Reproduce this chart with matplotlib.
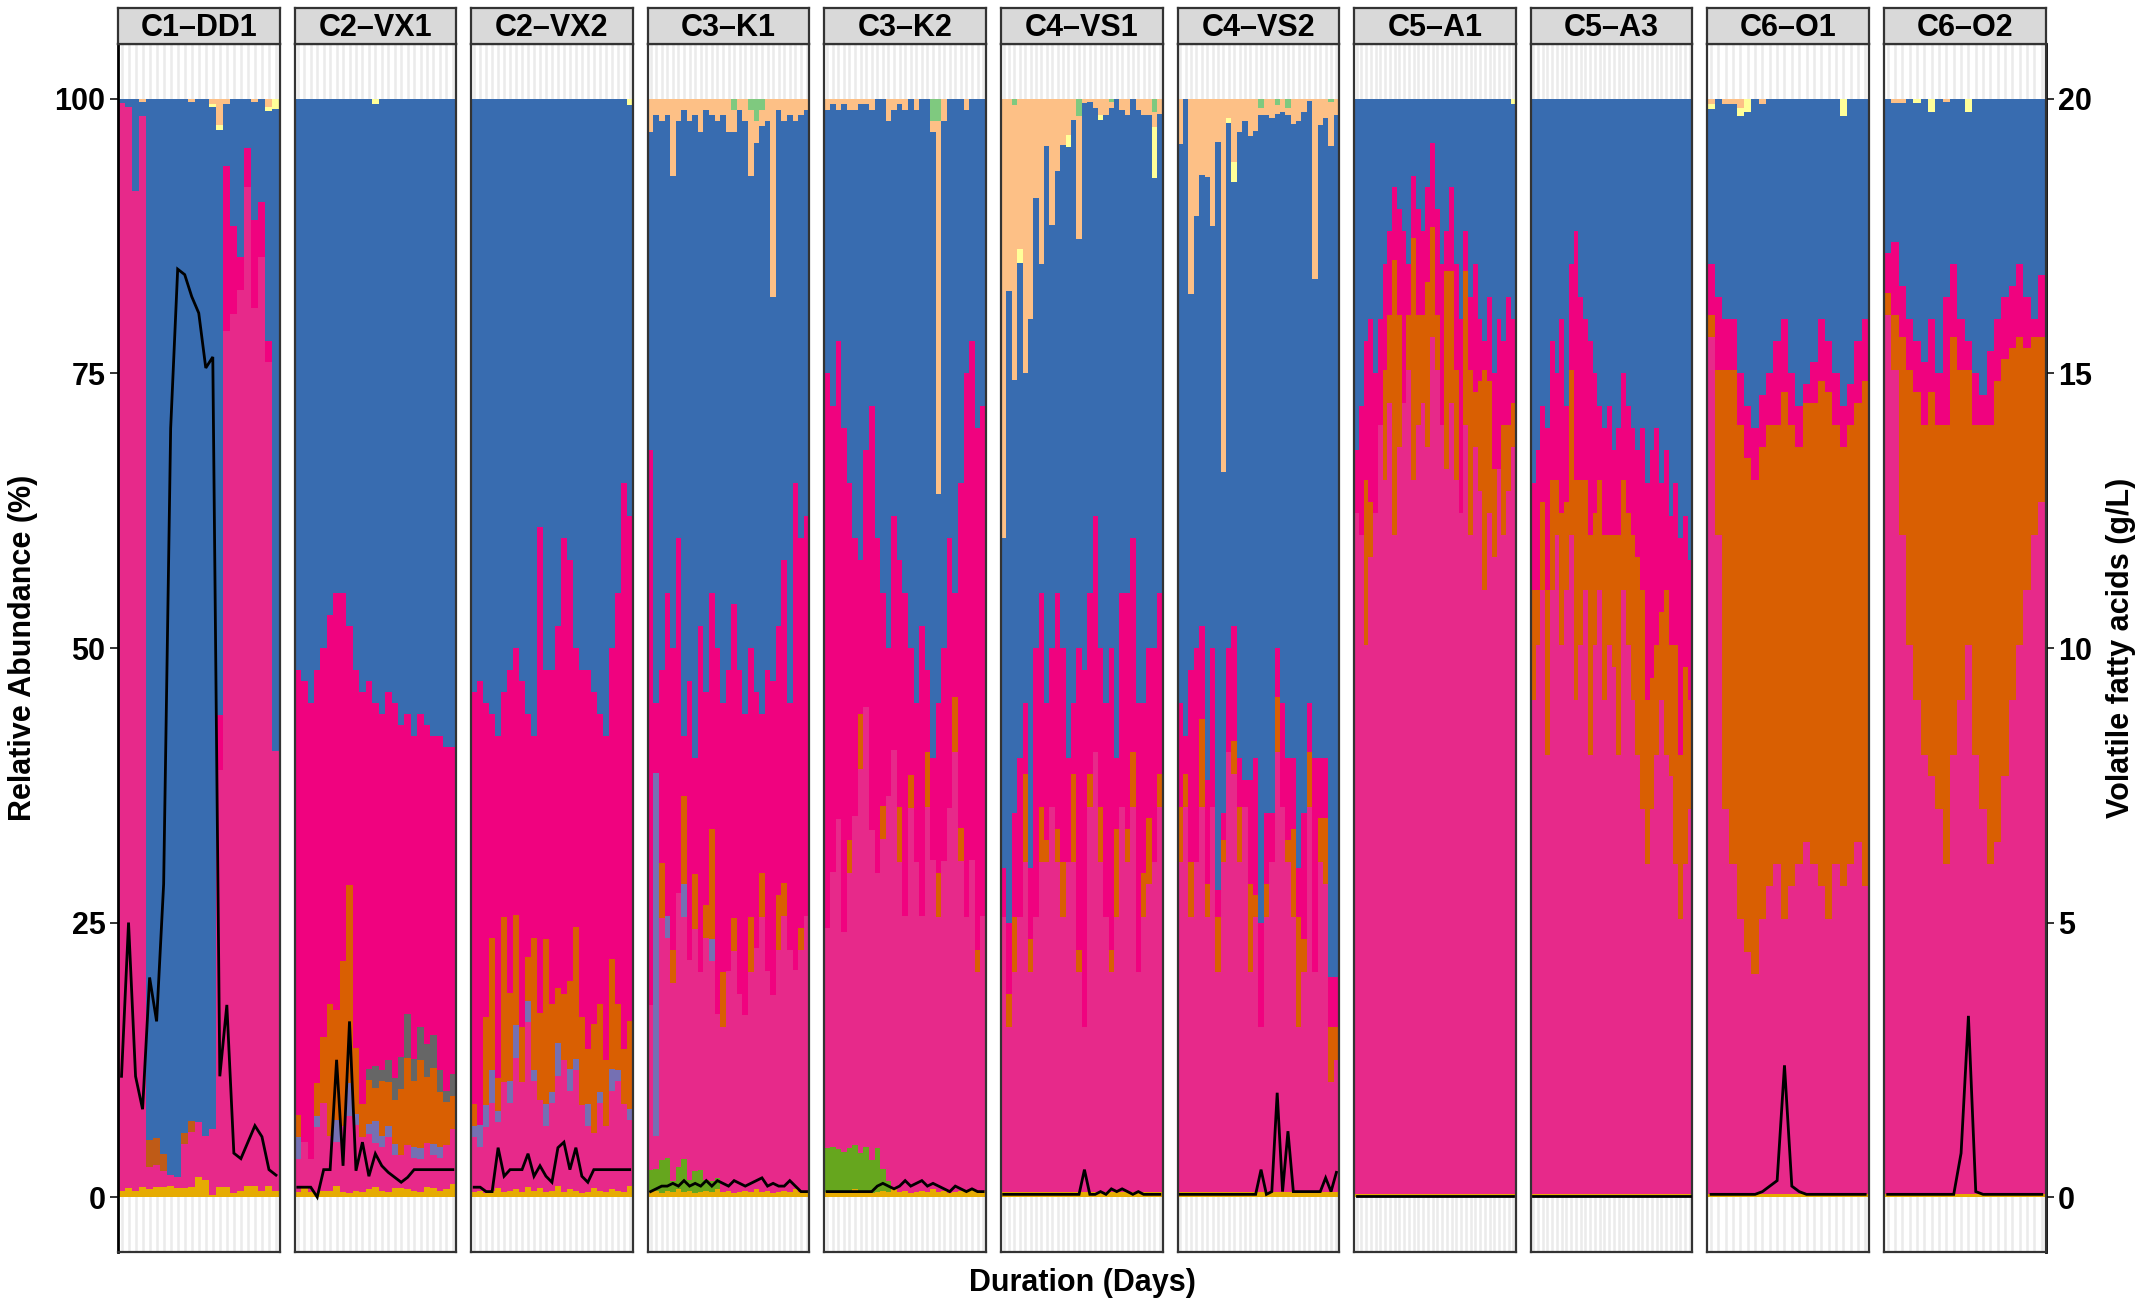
import matplotlib
matplotlib.use("Agg")
import matplotlib.pyplot as plt
import numpy as np

plt.rcParams['font.family'] = ['Liberation Sans', 'DejaVu Sans']
plt.rcParams['font.weight'] = 'bold'

PANEL_NAMES = ["C1–DD1", "C2–VX1", "C2–VX2", "C3–K1", "C3–K2", "C4–VS1",
               "C4–VS2", "C5–A1", "C5–A3", "C6–O1", "C6–O2"]

# stacking order bottom -> top
COMPONENTS = ['gold', 'green', 'pink', 'purple', 'orange', 'gray', 'brown',
              'magenta', 'blue', 'yellow', 'peach', 'lgreen']
COLORS = {'gold': '#E6AB02', 'green': '#66A61E', 'pink': '#E7298A',
          'purple': '#7570B3', 'orange': '#D95F02', 'gray': '#666666',
          'brown': '#BF5B17', 'magenta': '#F0027F', 'blue': '#386CB0',
          'yellow': '#FFFF99', 'peach': '#FDC086', 'lgreen': '#7FC97F'}

# "_floor" = relative abundance (%) below the blue taxon;
# the magenta taxon fills the gap between the listed lower taxa and that level.

# ---------------- C1-DD1 (23 samples) ----------------
DD1_gold = [0.6, 0.8, 0.6, 0.9, 0.7, 0.9, 0.9, 1.0, 0.8, 0.8, 0.9, 1.8, 1.6, 0.2, 0.9, 0.9, 0.4, 0.6, 1.0, 1.0, 0.6, 1.0, 0.6]
DD1_pink = [99, 98.5, 91, 97.5, 2, 2, 1.5, 1, 1, 4, 5, 5, 4, 6, 38, 78, 80, 82, 91, 80, 85, 75, 40]
DD1_brown = [0, 0, 0, 0, 2.5, 2.5, 1.5, 0, 0, 1, 1, 0, 0, 0, 0, 0, 0, 0, 0, 0, 0, 0, 0]
DD1_magenta = [0, 0, 0, 0, 0, 0, 0, 0, 0, 0, 0, 0, 0, 0, 5, 15, 8, 3, 3.5, 8, 5, 2, 0]
DD1_yellow = [0, 0, 0, 0, 0, 0, 0, 0, 0, 0, 0, 0, 0, 0.3, 0.45, 0, 0, 0, 0, 0, 0, 0.4, 0.9]
DD1_peach = [0, 0, 0, 0.3, 0, 0, 0, 0, 0, 0, 0.3, 0, 0, 0.45, 2.4, 0.45, 0, 0, 0, 0.3, 0, 0.7, 0]
DD1_vfa = [2.2, 5.0, 2.2, 1.6, 4.0, 3.2, 5.7, 14.0, 16.9, 16.8, 16.4, 16.1, 15.1, 15.3, 2.2, 3.5, 0.8, 0.7, 1.0, 1.3, 1.1, 0.5, 0.4]

# ---------------- C2-VX1 (25 samples) ----------------
VX1_gold = [0.5, 1.0, 0.5, 0.4, 0.6, 0.6, 1.0, 0.5, 0.4, 0.6, 0.5, 0.7, 0.9, 0.6, 0.5, 0.8, 0.8, 0.7, 0.6, 0.5, 0.9, 0.8, 0.6, 0.7, 1.2]
VX1_pink = [3, 4, 3, 6, 8, 5, 4, 6, 7, 6, 5, 5, 4, 4, 5, 3, 3, 4, 3, 3, 4, 3, 3, 4, 5]
VX1_purple = [2, 0, 0, 1, 0, 0, 2, 0, 3, 1, 0, 1, 2, 1, 1, 1, 0, 0, 1, 1, 0, 1, 1, 0, 0]
VX1_orange = [2, 0, 0, 3, 6, 12, 10, 15, 18, 6, 3, 4, 3, 5, 4, 4, 6, 8, 6, 8, 6, 7, 5, 4, 3]
VX1_gray = [0, 0, 0, 0, 0, 0, 0, 0, 0, 0, 0, 1, 2, 1, 2, 2, 3, 4, 2, 3, 3, 3, 2, 1, 2]
VX1_floor = [48, 47, 45, 48, 50, 53, 55, 55, 52, 48, 46, 47, 45, 44, 46, 45, 43, 44, 42, 44, 43, 42, 42, 41, 41]
VX1_yellow = [0, 0, 0, 0, 0, 0, 0, 0, 0, 0, 0, 0, 0.5, 0, 0, 0, 0, 0, 0, 0, 0, 0, 0, 0, 0]
VX1_vfa = [0.18, 0.18, 0.18, 0.0, 0.5, 0.5, 2.5, 0.57, 3.2, 0.48, 1.0, 0.38, 0.79, 0.57, 0.45, 0.36, 0.27, 0.36, 0.5, 0.5, 0.5, 0.5, 0.5, 0.5, 0.5]

# ---------------- C2-VX2 (27 samples) ----------------
VX2_gold = [0.5, 0.6, 0.4, 0.6, 0.8, 0.5, 0.6, 0.7, 0.5, 0.9, 0.6, 0.8, 0.5, 0.6, 1.0, 0.5, 0.7, 0.6, 0.4, 0.5, 0.8, 0.6, 0.5, 0.7, 0.6, 0.5, 1.0]
VX2_pink = [5, 4, 6, 8, 6, 10, 8, 12, 10, 15, 10, 8, 6, 8, 10, 12, 9, 11, 8, 6, 5, 8, 6, 9, 10, 8, 6]
VX2_purple = [1, 2, 2, 3, 1, 0, 2, 3, 0, 2, 1, 0, 2, 1, 3, 0, 2, 1, 0, 2, 0, 1, 0, 2, 1, 0, 1]
VX2_orange = [2, 0, 8, 12, 3, 15, 8, 10, 5, 4, 12, 8, 15, 8, 5, 6, 8, 12, 8, 5, 10, 8, 6, 10, 6, 5, 8]
VX2_floor = [46, 47, 45, 44, 42, 46, 48, 50, 47, 44, 42, 61, 48, 48, 52, 60, 58, 50, 48, 48, 46, 44, 42, 50, 55, 65, 62]
VX2_yellow = [0] * 26 + [0.6]
VX2_vfa = [0.18, 0.18, 0.1, 0.1, 0.9, 0.38, 0.5, 0.5, 0.5, 0.79, 0.38, 0.57, 0.38, 0.27, 0.9, 1.0, 0.5, 0.9, 0.38, 0.27, 0.5, 0.5, 0.5, 0.5, 0.5, 0.5, 0.5]

# ---------------- C3-K1 (29 samples) ----------------
K1_gold = [0.5, 0.6, 0.4, 0.6, 0.5, 0.7, 0.5, 0.6, 0.4, 0.5, 0.6, 0.5, 0.7, 0.5, 0.6, 0.4, 0.5, 0.6, 0.5, 0.7, 0.5, 0.6, 0.4, 0.5, 0.6, 0.5, 0.7, 0.5, 0.6]
K1_green = [2, 2, 3, 3, 1, 2, 3, 1, 2, 2, 1, 1, 1, 0, 0, 0, 0, 0, 0, 0, 0, 0, 0, 0, 0, 0, 0, 0, 0]
K1_pink = [15, 3, 22, 20, 18, 25, 22, 20, 22, 18, 22, 20, 15, 15, 20, 22, 18, 16, 20, 22, 25, 20, 18, 22, 25, 22, 20, 22, 25]
K1_purple = [0, 33, 0, 2, 0, 0, 3, 0, 0, 0, 0, 2, 0, 0, 0, 0, 0, 0, 0, 0, 0, 0, 0, 0, 0, 0, 0, 0, 0]
K1_orange = [0, 0, 5, 0, 3, 0, 8, 0, 5, 0, 3, 10, 0, 5, 0, 3, 0, 0, 5, 0, 4, 0, 0, 5, 3, 0, 0, 2, 0]
K1_floor = [68, 45, 48, 55, 50, 60, 42, 47, 40, 52, 46, 55, 50, 45, 48, 54, 48, 44, 50, 46, 44, 48, 47, 52, 58, 45, 65, 60, 62]
K1_peach = [3, 1.5, 2, 1.5, 7, 2, 1, 2, 1.5, 3, 1, 1.5, 2, 1.5, 3, 2, 1, 2, 6, 2, 1.5, 2, 18, 1, 2, 1.5, 2, 1.5, 1]
K1_lgreen = [0] * 15 + [1, 0, 0, 1, 2, 1, 0, 0, 0, 0, 0, 0, 0, 0]
K1_vfa = [0.1, 0.15, 0.2, 0.2, 0.25, 0.2, 0.3, 0.2, 0.25, 0.2, 0.3, 0.2, 0.3, 0.25, 0.2, 0.3, 0.25, 0.2, 0.25, 0.3, 0.35, 0.2, 0.25, 0.2, 0.2, 0.3, 0.2, 0.1, 0.1]

# ---------------- C3-K2 (29 samples) ----------------
K2_gold = [0.5, 0.6, 0.4, 0.6, 0.5, 0.7, 0.5, 0.6, 0.4, 0.5, 0.6, 0.5, 0.7, 0.5, 0.6, 0.4, 0.5, 0.6, 0.5, 0.7, 0.5, 0.6, 0.4, 0.5, 0.6, 0.5, 0.7, 0.5, 0.6]
K2_green = [4, 4, 4, 3.5, 4, 4, 3.5, 4, 3, 4, 2, 1, 0, 0, 0, 0, 0, 0, 0, 0, 0, 0, 0, 0, 0, 0, 0, 0, 0]
K2_pink = [20, 25, 30, 20, 25, 30, 35, 40, 30, 25, 30, 35, 40, 30, 25, 35, 30, 25, 35, 30, 25, 30, 35, 40, 30, 25, 30, 20, 25]
K2_orange = [0, 0, 0, 0, 3, 0, 5, 0, 0, 0, 3, 0, 0, 5, 0, 3, 0, 0, 5, 0, 4, 0, 0, 5, 3, 0, 0, 2, 0]
K2_floor = [75, 72, 78, 70, 65, 60, 58, 68, 72, 60, 55, 50, 62, 58, 55, 50, 45, 52, 48, 40, 45, 50, 60, 55, 65, 75, 78, 70, 72]
K2_peach = [1, 0.5, 1, 0.5, 1, 1, 0.5, 0.5, 1, 0, 0, 2, 1, 0.5, 1, 0, 1, 0, 0, 1, 34, 2, 0, 0, 0, 1, 0, 0, 0]
K2_lgreen = [0] * 19 + [2, 2, 0, 0, 0, 0, 0, 0, 0, 0]
K2_vfa = [0.1, 0.1, 0.1, 0.1, 0.1, 0.1, 0.1, 0.1, 0.1, 0.2, 0.25, 0.2, 0.15, 0.2, 0.3, 0.2, 0.25, 0.3, 0.2, 0.25, 0.2, 0.15, 0.1, 0.2, 0.15, 0.1, 0.15, 0.1, 0.1]

# ---------------- C4-VS1 (30 samples) ----------------
VS1_gold = [0.5] * 30
VS1_pink = [25, 15, 20, 25, 30, 20, 25, 30, 30, 35, 30, 25, 30, 30, 20, 15, 35, 40, 30, 25, 20, 25, 35, 30, 35, 20, 25, 28, 30, 35]
VS1_orange = [0, 3, 5, 0, 8, 3, 0, 5, 2, 0, 3, 5, 0, 8, 2, 0, 3, 0, 5, 0, 2, 8, 0, 3, 5, 0, 4, 6, 0, 3]
VS1_floor = [30, 25, 35, 40, 45, 30, 50, 55, 45, 50, 55, 50, 40, 45, 50, 48, 55, 62, 50, 45, 50, 40, 55, 55, 60, 45, 45, 50, 50, 55]
VS1_yellow = [0, 0, 0, 1.2, 0, 0, 0, 0, 0, 0, 0, 0, 1.1, 0, 0, 0, 0, 0, 0.4, 0, 0, 0, 0, 0, 0, 0, 0, 0, 4.6, 0]
VS1_peach = [40, 17.5, 25, 13.7, 25, 20, 9, 15, 4.3, 11.5, 6.6, 4.2, 3.3, 1.9, 11.2, 0.4, 0.3, 0.8, 1.5, 1.5, 0.5, 0, 1, 1.5, 0, 1, 1.5, 1.5, 1.4, 1.4]
VS1_lgreen = [0, 0, 0.6, 0, 0, 0, 0, 0, 0, 0, 0, 0, 0, 0, 1.6, 0, 0, 0, 0, 0, 0.3, 0, 0, 0, 0, 0, 0, 0, 1.2, 0]
VS1_vfa = [0.05] * 15 + [0.5] + [0.05] * 2 + [0.1, 0.05, 0.15, 0.1, 0.15, 0.1, 0.05, 0.1, 0.05, 0.05, 0.05, 0.05]

# ---------------- C4-VS2 (30 samples) ----------------
VS2_gold = [0.5] * 30
VS2_pink = [30, 35, 25, 30, 35, 25, 35, 20, 30, 40, 38, 30, 35, 20, 25, 15, 25, 30, 40, 35, 30, 25, 15, 20, 35, 20, 30, 28, 10, 12]
VS2_orange = [5, 3, 5, 0, 8, 3, 0, 5, 2, 0, 3, 5, 0, 8, 2, 0, 3, 0, 5, 0, 2, 8, 10, 3, 5, 0, 4, 6, 5, 3]
VS2_floor = [45, 42, 48, 50, 52, 38, 50, 28, 35, 50, 52, 40, 38, 38, 40, 25, 35, 35, 50, 45, 40, 40, 30, 35, 45, 40, 40, 40, 20, 20]
VS2_yellow = [0] * 9 + [0.5, 1.9] + [0] * 19
VS2_peach = [4.1, 0, 17.8, 10.7, 6.9, 7.1, 11.6, 3.9, 34, 1.7, 5.7, 3.0, 2.0, 3.4, 2.9, 0.7, 1.5, 1.7, 0.8, 1.2, 0.7, 2.3, 2.0, 1.2, 0.2, 16.4, 2.4, 1.7, 4.0, 1.5]
VS2_lgreen = [0] * 15 + [0.8, 0, 0, 0.6, 0, 0.8, 0, 0, 0, 0, 0, 0, 0, 0.3, 0]
VS2_vfa = [0.05] * 15 + [0.5, 0.05, 0.1, 1.9, 0.1, 1.2, 0.1, 0.1, 0.1, 0.1, 0.1, 0.1, 0.35, 0.1, 0.45]

# ---------------- C5-A1 (34 samples) ----------------
A1_gold = [0.3] * 34
A1_pink = [62, 60, 50, 58, 62, 70, 65, 72, 60, 68, 72, 75, 65, 70, 72, 68, 78, 75, 70, 66, 72, 65, 62, 70, 60, 68, 64, 55, 62, 58, 66, 60, 64, 68]
A1_orange = [0, 0, 15, 5, 0, 0, 10, 8, 25, 12, 0, 5, 22, 10, 8, 15, 10, 5, 0, 18, 12, 10, 0, 14, 15, 5, 10, 20, 12, 8, 0, 10, 6, 4]
A1_floor = [68, 72, 78, 80, 75, 80, 85, 88, 92, 90, 88, 85, 93, 90, 88, 92, 96, 90, 85, 88, 92, 85, 80, 88, 82, 85, 80, 78, 82, 75, 80, 78, 82, 80]
A1_yellow = [0] * 33 + [0.5]
A1_vfa = [0.02] * 34

# ---------------- C5-A3 (34 samples) ----------------
A3_gold = [0.3] * 34
A3_pink = [45, 50, 55, 40, 55, 60, 50, 55, 60, 45, 50, 55, 40, 50, 55, 45, 50, 48, 40, 55, 50, 45, 40, 35, 30, 35, 40, 45, 40, 38, 30, 25, 30, 35]
A3_orange = [10, 5, 8, 15, 10, 5, 12, 8, 15, 20, 15, 10, 20, 12, 10, 15, 10, 12, 20, 10, 12, 15, 18, 20, 15, 12, 10, 8, 15, 12, 20, 15, 18, 10]
A3_floor = [65, 68, 72, 70, 78, 75, 80, 72, 85, 88, 82, 80, 78, 75, 72, 70, 72, 68, 70, 75, 72, 70, 68, 70, 65, 68, 70, 65, 68, 62, 65, 60, 62, 58]
A3_vfa = [0.02] * 34

# ---------------- C6-O1 (22 samples) ----------------
O1_gold = [0.3] * 22
O1_pink = [78, 60, 35, 30, 25, 22, 20, 25, 28, 30, 25, 28, 30, 32, 30, 28, 25, 30, 28, 30, 32, 28]
O1_orange = [2, 15, 40, 45, 45, 45, 45, 43, 42, 40, 48, 42, 38, 40, 42, 46, 48, 40, 40, 40, 40, 46]
O1_floor = [85, 82, 80, 80, 75, 72, 70, 73, 75, 78, 80, 75, 72, 74, 76, 80, 78, 75, 72, 74, 78, 80]
O1_yellow = [0.4, 0, 0, 0, 0.8, 1.2, 0, 0, 0, 0, 0, 0, 0, 0, 0, 0, 0, 0, 1.6, 0, 0, 0]
O1_peach = [0.5, 0, 0.5, 0.5, 0.8, 0, 0, 0.5, 0, 0, 0, 0, 0, 0, 0, 0, 0, 0, 0, 0, 0, 0]
O1_vfa = [0.05] * 7 + [0.1, 0.2, 0.3, 2.4, 0.2, 0.1] + [0.05] * 9

# ---------------- C6-O2 (22 samples) ----------------
O2_gold = [0.3] * 22
O2_pink = [80, 75, 60, 50, 45, 40, 38, 35, 30, 40, 45, 50, 40, 35, 30, 32, 38, 45, 50, 55, 60, 63]
O2_orange = [2, 5, 18, 25, 28, 30, 35, 35, 40, 38, 30, 25, 30, 35, 40, 42, 38, 32, 28, 22, 18, 15]
O2_floor = [86, 87, 83, 80, 78, 76, 80, 75, 82, 85, 80, 78, 75, 73, 77, 80, 82, 83, 85, 82, 80, 84]
O2_yellow = [0, 0, 0, 0, 0.4, 0, 1.2, 0, 0, 0, 0, 1.2, 0, 0, 0, 0, 0, 0, 0, 0, 0, 0]
O2_peach = [0, 0.4, 0.4, 0, 0, 0, 0, 0, 0.3, 0, 0, 0, 0, 0, 0, 0, 0, 0, 0, 0, 0, 0]
O2_vfa = [0.05] * 10 + [0.8, 3.3, 0.1] + [0.05] * 9

g = globals()
PREFIXES = ["DD1", "VX1", "VX2", "K1", "K2", "VS1", "VS2", "A1", "A3", "O1", "O2"]
LOWER = ['gold', 'green', 'pink', 'purple', 'orange', 'gray', 'brown']
UPPER = ['yellow', 'peach', 'lgreen']


def panel_stack(prefix):
    n = len(g[prefix + "_vfa"])
    comps = {}
    for c in COMPONENTS:
        key = prefix + "_" + c
        comps[c] = np.array(g[key], float) if key in g else np.zeros(n)
    lower = sum(comps[c] for c in LOWER)
    upper = sum(comps[c] for c in UPPER)
    if (prefix + "_floor") in g:
        floor = np.maximum(np.array(g[prefix + "_floor"], float), lower)
        comps['magenta'] = floor - lower
        comps['blue'] = np.clip(100 - floor - upper, 0, None)
    else:
        comps['blue'] = np.clip(100 - lower - comps['magenta'] - upper, 0, None)
    total = sum(comps.values())
    for c in COMPONENTS:
        comps[c] = comps[c] * 100.0 / total
    return n, comps


W, H = 2146, 1303
fig = plt.figure(figsize=(W / 100, H / 100), dpi=100)
left_px, pw, pitch = 118, 161.5, 176.6
top_px, bot_px = 44, 1252
strip_top = 8

FS = 22
for i, (name, pre) in enumerate(zip(PANEL_NAMES, PREFIXES)):
    x0 = left_px + i * pitch
    ax = fig.add_axes([x0 / W, 1 - bot_px / H, pw / W, (bot_px - top_px) / H])
    n, comps = panel_stack(pre)
    xs = np.arange(1, n + 1)
    bottom = np.zeros(n)
    for c in COMPONENTS:
        ax.bar(xs, comps[c], width=1.0, bottom=bottom, color=COLORS[c],
               linewidth=0, zorder=2)
        bottom = bottom + comps[c]
    ax.plot(xs, np.array(g[pre + "_vfa"]) * 5, color='black', lw=2.0,
            zorder=3, solid_joinstyle='miter')
    ax.set_xlim(0.5, n + 0.5)
    ax.set_ylim(-5, 105)
    ax.set_xticks(xs)
    ax.tick_params(axis='x', length=0, labelbottom=False)
    ax.grid(axis='x', color='#EBEBEB', lw=1.8, zorder=0)
    ax.set_axisbelow(True)
    for s in ax.spines.values():
        s.set_color('#333333')
        s.set_linewidth(1.6)
    if i == 0:
        ax.set_yticks([0, 25, 50, 75, 100])
        ax.tick_params(axis='y', length=6, width=1.4, color='#333333',
                       labelsize=FS, pad=3)
        for t in ax.get_yticklabels():
            t.set_fontweight('bold')
        ax.spines['left'].set_color('black')
        ax.spines['left'].set_linewidth(2.0)
    else:
        ax.tick_params(axis='y', left=False, labelleft=False)
    if i == len(PANEL_NAMES) - 1:
        sec = ax.secondary_yaxis('right', functions=(lambda y: y / 5, lambda v: v * 5))
        sec.set_yticks([0, 5, 10, 15, 20])
        sec.tick_params(axis='y', length=6, width=1.4, color='#333333',
                        labelsize=FS, pad=3)
        for t in sec.get_yticklabels():
            t.set_fontweight('bold')
        sec.spines['right'].set_color('black')
        sec.spines['right'].set_linewidth(2.0)
    sax = fig.add_axes([x0 / W, 1 - top_px / H, pw / W, (top_px - strip_top) / H])
    sax.set_facecolor('#D9D9D9')
    sax.set_xticks([]); sax.set_yticks([])
    for s in sax.spines.values():
        s.set_color('#333333')
        s.set_linewidth(1.6)
    sax.text(0.5, 0.45, name, ha='center', va='center', fontsize=FS,
             fontweight='bold', transform=sax.transAxes)

fig.text(23 / W, 1 - 648 / H, "Relative Abundance (%)", rotation=90,
         ha='center', va='center', fontsize=FS, fontweight='bold')
fig.text(2121 / W, 1 - 648 / H, "Volatile fatty acids (g/L)", rotation=90,
         ha='center', va='center', fontsize=FS, fontweight='bold')
fig.text(1082 / W, 1 - 1283 / H, "Duration (Days)", ha='center', va='center',
         fontsize=FS, fontweight='bold')

fig.savefig("out.png", dpi=100)
